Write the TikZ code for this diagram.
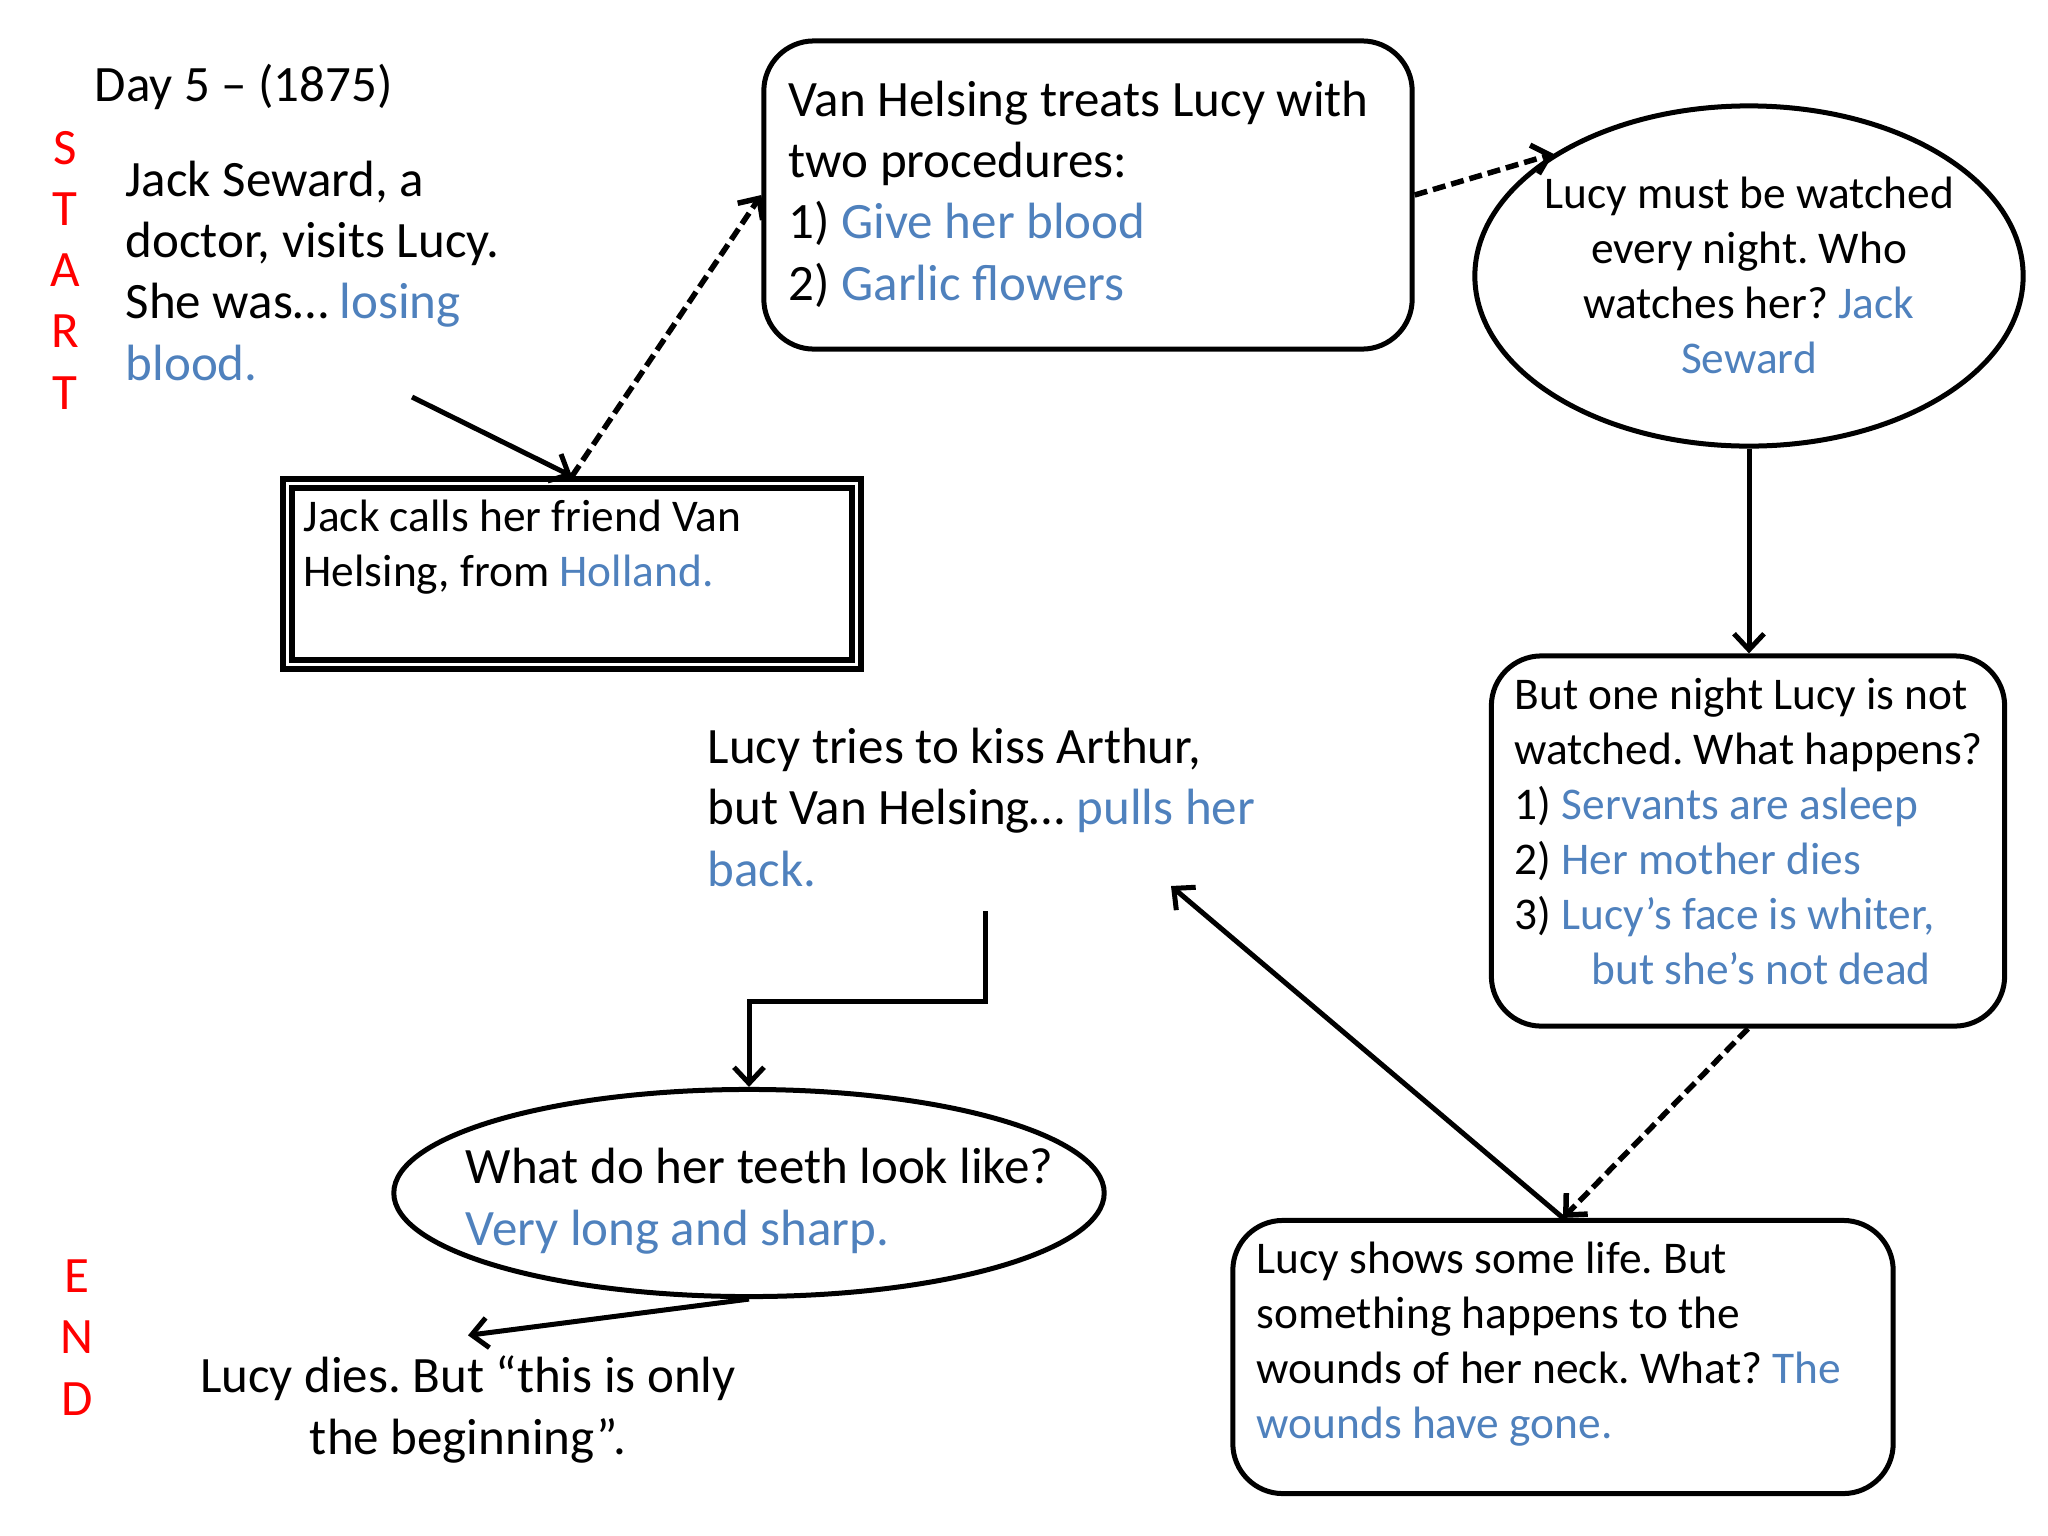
\documentclass[tikz,border=0pt]{standalone}
\usepackage{fontspec}
\setmainfont{Carlito}
\usetikzlibrary{arrows.meta, shapes.geometric}
\definecolor{answer}{HTML}{4F81BD}
\definecolor{marker}{HTML}{FF0000}
\newcommand{\ans}[1]{\textcolor{answer}{#1}}
\frenchspacing

\begin{document}
\begin{tikzpicture}[x=0.01cm, y=-0.01cm,
  bigtxt/.style={inner sep=0pt, align=left, font=\fontsize{14.5}{17.4}\selectfont},
  smalltxt/.style={inner sep=0pt, align=left, font=\fontsize{12.9}{15.6}\selectfont},
  marktxt/.style={bigtxt, align=center, text=marker},
  roundbox/.style={draw, line width=0.05cm, rounded corners=0.5cm, inner sep=0pt},
  oval/.style={draw, ellipse, line width=0.05cm, inner sep=0pt},
  framebox/.style={draw, double, double distance=0.035cm, line width=0.055cm,
                   inner sep=0pt, outer sep=0.072cm},
  arrow/.style={-{Straight Barb[length=0.16cm, width=0.3cm]}, line width=0.05cm},
  dasharrow/.style={arrow, line width=0.055cm, dash pattern=on 0.13cm off 0.06cm}]
  \useasboundingbox (0,0) rectangle (2048,1536);
  % side markers (base = last line)
  \node[marktxt, anchor=base] (start) at (65,409) {S\\T\\A\\R\\T};
  \node[marktxt, anchor=base] (finish) at (77,1415) {E\\N\\D};
  % opening text
  \node[bigtxt, anchor=base west] (day) at (94,101) {Day 5 – (1875)};
  \node[bigtxt, anchor=base west] (seward) at (125,380)
    {Jack Seward, a\\doctor, visits Lucy.\\She was… \ans{losing}\\\ans{blood.}};
  % boxes and ovals
  \node[framebox, minimum width=5.69cm, minimum height=1.81cm] (jack) at (572,574) {};
  \node[smalltxt, anchor=base west] (jacktxt) at (303,586)
    {Jack calls her friend Van\\Helsing, from \ans{Holland.}};
  \node[roundbox, minimum width=6.48cm, minimum height=3.08cm] (van) at (1088,195) {};
  \node[bigtxt, anchor=base west] (vantxt) at (788,300)
    {Van Helsing treats Lucy with\\two procedures:\\1) \ans{Give her blood}\\2) \ans{Garlic flowers}};
  \node[oval, minimum width=5.48cm, minimum height=3.4cm] (watch) at (1749,276) {};
  \node[smalltxt, align=center, anchor=base] (watchtxt) at (1749,373)
    {Lucy must be watched\\every night. Who\\watches her? \ans{Jack}\\\ans{Seward}};
  \node[roundbox, minimum width=5.13cm, minimum height=3.7cm] (night) at (1748,841) {};
  \node[smalltxt, anchor=base west] (nighttxt) at (1514,984)
    {But one night Lucy is not\\watched. What happens?\\1) \ans{Servants are asleep}\\
     2) \ans{Her mother dies}\\3) \ans{Lucy’s face is whiter,}\\\hspace*{7.7mm}\ans{but she’s not dead}};
  \node[roundbox, minimum width=6.6cm, minimum height=2.73cm] (life) at (1563,1357) {};
  \node[smalltxt, anchor=base west] (lifetxt) at (1256,1438)
    {Lucy shows some life. But\\something happens to the\\wounds of her neck. What? \ans{The}\\\ans{wounds have gone.}};
  \node[bigtxt, anchor=base west] (kiss) at (707,886)
    {Lucy tries to kiss Arthur,\\but Van Helsing… \ans{pulls her}\\\ans{back.}};
  \node[oval, minimum width=7.1cm, minimum height=2.07cm] (teeth) at (749,1193) {};
  \node[bigtxt, anchor=base west] (teethtxt) at (465,1245)
    {What do her teeth look like?\\\ans{Very long and sharp.}};
  \node[bigtxt, align=center, anchor=base, inner sep=0.2cm] (dies) at (468,1454)
    {Lucy dies. But “this is only\\the beginning”.};
  % free ends
  \coordinate (sewardout) at (412,397);
  \coordinate (kissin) at (1171,886);
  \coordinate (kissout) at (985,911);
  % connectors
  \draw[arrow] (sewardout) -- (jack.north);
  \draw[dasharrow] (jack.north) -- (van.west);
  \draw[dasharrow] (van.east) -- (watch.148);
  \draw[arrow] (watch.south) -- (watch.south |- night.north);
  \draw[dasharrow] (night.south) -- (life.north);
  \draw[arrow] (life.north) -- (kissin);
  \draw[arrow] (kissout) -- ++(0,90) -| (teeth.north);
  \draw[arrow] (teeth.south) -- (dies.north);
\end{tikzpicture}
\end{document}
